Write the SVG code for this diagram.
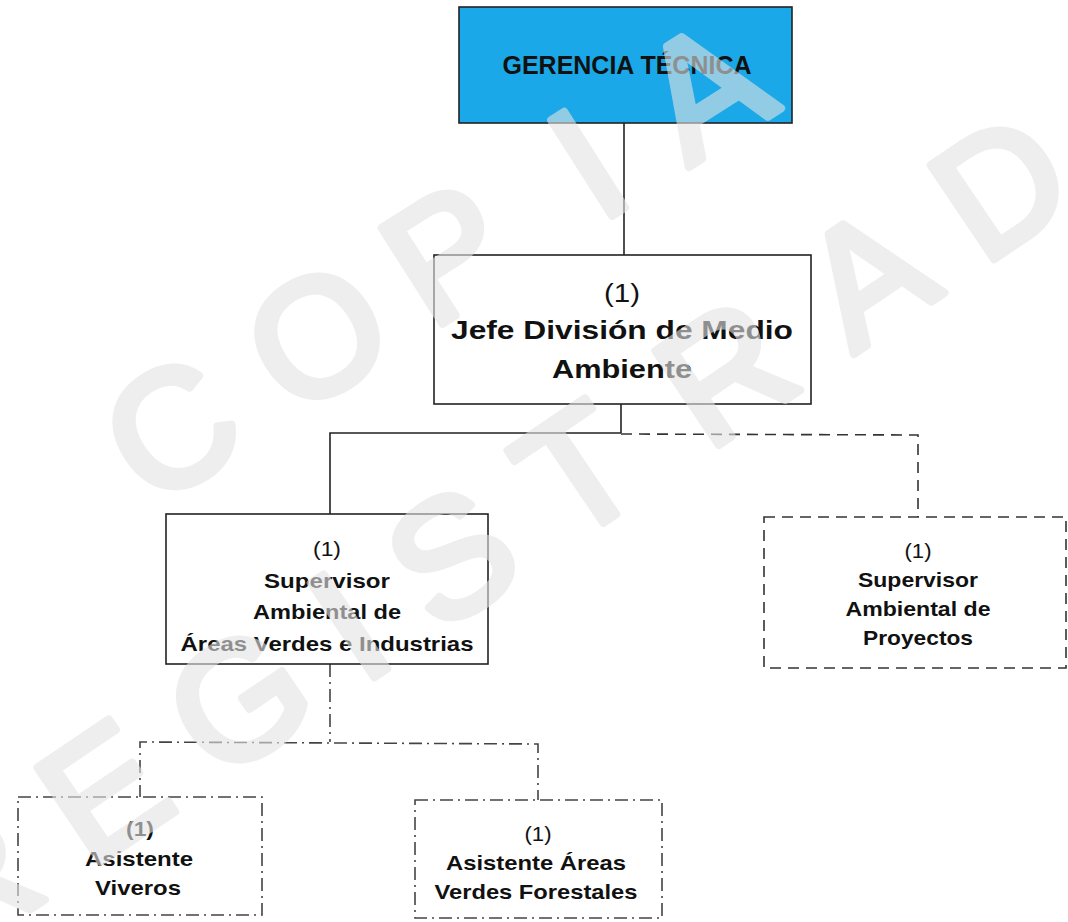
<svg xmlns="http://www.w3.org/2000/svg" width="1068" height="922" viewBox="0 0 1068 922">
<style>
.box{fill:#fff;stroke:#222;stroke-width:1.6}
.dash{fill:#fff;stroke:#333;stroke-width:1.6;stroke-dasharray:11 7}
.dd{fill:#fff;stroke:#444;stroke-width:1.6;stroke-dasharray:13 5 2 5}
.ln{fill:none;stroke:#222;stroke-width:1.6}
.lnd{fill:none;stroke:#333;stroke-width:1.6;stroke-dasharray:11 7}
.lndd{fill:none;stroke:#444;stroke-width:1.6;stroke-dasharray:13 5 2 5}
.t{font-family:"Liberation Sans",Arial,sans-serif;text-anchor:middle;fill:#111}
.n{font-family:"Liberation Sans Narrow","Liberation Sans",Arial,sans-serif;font-size:21px;text-anchor:middle;fill:#111}
.b{font-weight:bold}
.wm{font-family:"Liberation Sans",Arial,sans-serif;font-size:165px;text-anchor:middle;fill:#e3e3e3;stroke:#e3e3e3;stroke-width:8;stroke-linejoin:round}
</style>
<rect width="1068" height="922" fill="#fff"/>
<g id="connectors">
<line class="ln" x1="624" y1="123" x2="624" y2="255"/>
<line class="ln" x1="621" y1="404" x2="621" y2="433"/>
<polyline class="ln" points="621,433 330,433 330,514"/>
<polyline class="lnd" points="621,434 918,435 918,517"/>
<line class="lndd" x1="330" y1="664" x2="330" y2="742"/>
<polyline class="lndd" points="140,798 140,742 538,744 538,800"/>
</g>
<g id="gerencia">
<rect x="459" y="7" width="333" height="116" fill="#1aa8e8" stroke="#222" stroke-width="1.6"/>
<text class="t b" x="627" y="74" font-size="25" font-family="'Open Sans',sans-serif" textLength="249" lengthAdjust="spacingAndGlyphs">GERENCIA TÉCNICA</text>
</g>
<g id="jefe">
<rect class="box" x="434" y="255" width="377" height="149"/>
<text class="t" x="622" y="302" font-size="25" textLength="36" lengthAdjust="spacingAndGlyphs">(1)</text>
<text class="t b" x="622" y="339" font-size="25" textLength="342" lengthAdjust="spacingAndGlyphs">Jefe División de Medio</text>
<text class="t b" x="622" y="378" font-size="25" textLength="140" lengthAdjust="spacingAndGlyphs">Ambiente</text>
</g>
<g id="sup-areas">
<rect class="box" x="166" y="514" width="322" height="150"/>
<text class="n" x="327" y="556" textLength="28" lengthAdjust="spacingAndGlyphs">(1)</text>
<text class="n b" x="327" y="588" textLength="126" lengthAdjust="spacingAndGlyphs">Supervisor</text>
<text class="n b" x="327" y="619" textLength="148" lengthAdjust="spacingAndGlyphs">Ambiental de</text>
<text class="n b" x="327" y="651" textLength="293" lengthAdjust="spacingAndGlyphs">Áreas Verdes e Industrias</text>
</g>
<g id="sup-proyectos">
<rect class="dash" x="764" y="517" width="302" height="151"/>
<text class="n" x="918" y="558" textLength="27" lengthAdjust="spacingAndGlyphs">(1)</text>
<text class="n b" x="918" y="587" textLength="120" lengthAdjust="spacingAndGlyphs">Supervisor</text>
<text class="n b" x="918" y="616" textLength="145" lengthAdjust="spacingAndGlyphs">Ambiental de</text>
<text class="n b" x="918" y="645" textLength="110" lengthAdjust="spacingAndGlyphs">Proyectos</text>
</g>
<g id="viveros">
<rect class="dd" x="18" y="797" width="244" height="118"/>
<text class="n b" x="140" y="836" textLength="28" lengthAdjust="spacingAndGlyphs">(1)</text>
<text class="n b" x="139" y="866" textLength="108" lengthAdjust="spacingAndGlyphs">Asistente</text>
<text class="n b" x="138" y="895" textLength="86" lengthAdjust="spacingAndGlyphs">Viveros</text>
</g>
<g id="forestales">
<rect class="dd" x="415" y="800" width="247" height="118"/>
<text class="n" x="538" y="841" textLength="27" lengthAdjust="spacingAndGlyphs">(1)</text>
<text class="n b" x="536" y="870" textLength="180" lengthAdjust="spacingAndGlyphs">Asistente Áreas</text>
<text class="n b" x="536" y="899" textLength="203" lengthAdjust="spacingAndGlyphs">Verdes Forestales</text>
</g>
<g id="watermark" opacity="0.6">
<text class="wm" transform="translate(175,435) rotate(-32.5)" x="0 173 327 494 632" y="50">COPIA</text>
<text class="wm" transform="translate(98,783) rotate(-34)" x="-161 0 163 296 420 572 750 921 1082 1243" y="67">REGISTRADA</text>
</g>
</svg>
